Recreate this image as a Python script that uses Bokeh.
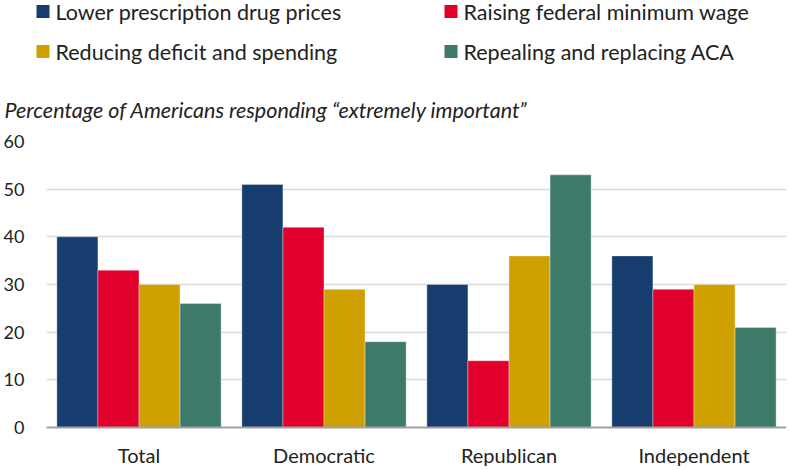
from bokeh.plotting import figure
from bokeh.layouts import column
from bokeh.models import ColumnDataSource, FactorRange, Range1d, FixedTicker
from bokeh.core.properties import value
from bokeh.transform import dodge
from bokeh.embed import file_html
from bokeh.resources import INLINE

groups = ["Total", "Democratic", "Republican", "Independent"]
series = ["Lower prescription drug prices", "Raising federal minimum wage",
          "Reducing deficit and spending", "Repealing and replacing ACA"]
drug = [40, 51, 30, 36]
wage = [33, 42, 14, 29]
deficit = [30, 29, 36, 30]
aca = [26, 18, 53, 21]
colors = ["#163D6E", "#E0002B", "#CFA002", "#3E7A6A"]
y_ticks = [0, 10, 20, 30, 40, 50, 60]
subtitle = "Percentage of Americans responding \u201cextremely important\u201d"

FONT = "Lato"
TXT = "#222222"
W = 786
TOP_H = 122
MAIN_H = 347

# ---------- header (legend + subtitle), pixel layout ----------
top = figure(width=W, height=TOP_H, x_range=Range1d(0, W), y_range=Range1d(TOP_H, 0),
             output_backend="svg", toolbar_location=None, frame_align=False,
             min_border=0, x_axis_type=None, y_axis_type=None)
top.outline_line_color = None
top.grid.visible = False

col_x = [36, 444]          # left edge of legend squares (figure px)
row_y = [11, 51]           # row centres (figure px)
sq = 13
leg = ColumnDataSource(dict(
    name=series,
    color=colors,
    sx=[col_x[0] + sq / 2, col_x[1] + sq / 2, col_x[0] + sq / 2, col_x[1] + sq / 2],
    tx=[col_x[0] + sq + 6, col_x[1] + sq + 6, col_x[0] + sq + 6, col_x[1] + sq + 6],
    y=[row_y[0], row_y[0], row_y[1], row_y[1]],
))
top.scatter(x="sx", y="y", marker="square", size=sq, fill_color="color",
            line_color=None, source=leg)
top.text(x="tx", y="y", text="name", source=leg, text_font=value(FONT),
         text_font_size="21.5px", text_color=TXT, text_baseline="middle",
         text_align="left")
top.text(x=[4], y=[109], text=[subtitle], text_font=value(FONT),
         text_font_size="21.5px", text_font_style="italic", text_color=TXT,
         text_baseline="middle", text_align="left")

# ---------- main bar chart ----------
src = ColumnDataSource(dict(g=groups, drug=drug, wage=wage, deficit=deficit, aca=aca))
p = figure(width=W, height=MAIN_H, x_range=FactorRange(*groups), y_range=Range1d(0, 60),
           output_backend="svg", toolbar_location=None, frame_align=False,
           min_border_left=42, min_border_right=0, min_border_top=19, min_border_bottom=30)
p.outline_line_color = None

bw = 0.222
offs = [-1.5 * bw, -0.5 * bw, 0.5 * bw, 1.5 * bw]
for col, off, c in zip(["drug", "wage", "deficit", "aca"], offs, colors):
    p.vbar(x=dodge("g", off, range=p.x_range), top=col, width=bw, source=src,
           fill_color=c, line_color="white", line_alpha=0.35, line_width=1)

p.yaxis.ticker = FixedTicker(ticks=y_ticks)
p.ygrid.ticker = FixedTicker(ticks=y_ticks)
p.ygrid.grid_line_color = "#D9D9D9"
p.ygrid.grid_line_width = 1.5
p.xgrid.grid_line_color = None
p.yaxis.axis_line_color = None
p.yaxis.major_tick_line_color = None
p.yaxis.minor_tick_line_color = None
p.yaxis.major_label_standoff = 16
p.yaxis.major_label_text_font = FONT
p.yaxis.major_label_text_font_size = "18px"
p.yaxis.major_label_text_color = TXT

p.xaxis.axis_line_color = "#A0A0A0"
p.xaxis.axis_line_width = 2
p.xaxis.major_tick_line_color = None
p.xaxis.minor_tick_line_color = None
p.xaxis.major_label_standoff = 9
p.xaxis.major_label_text_font = FONT
p.xaxis.major_label_text_font_size = "20px"
p.xaxis.major_label_text_color = TXT

layout = column(top, p, spacing=0)
open("out.html", "w").write(file_html(layout, INLINE))
